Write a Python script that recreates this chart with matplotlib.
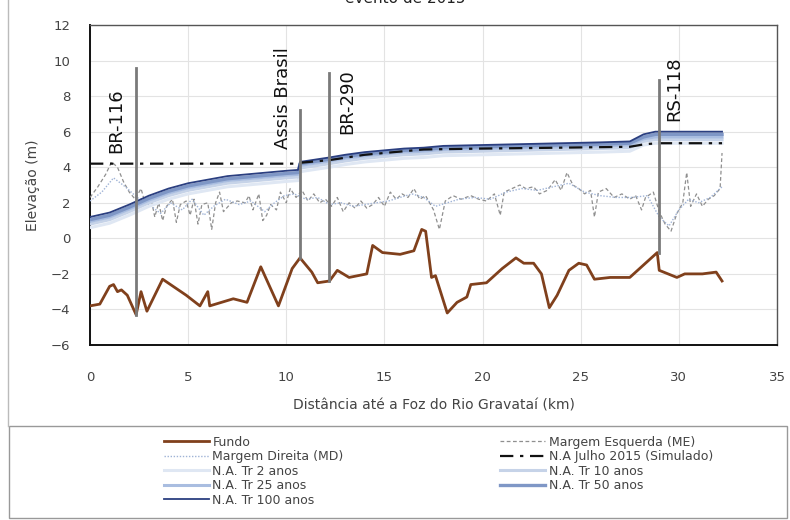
import matplotlib
matplotlib.use("Agg")
import matplotlib.pyplot as plt
from matplotlib.lines import Line2D
from matplotlib.patches import Rectangle

plt.rcParams.update({"font.family": ["DejaVu Sans"], "font.size": 9})

# ---- perfil de fundo ----
dist_fundo = [0, 0.5, 1.0, 1.2, 1.4, 1.6, 1.9, 2.35, 2.6, 2.9, 3.7, 4.9, 5.6, 6.0, 6.1,
              7.3, 8.0, 8.7, 9.6, 10.3, 10.7, 11.3, 11.6, 12.2, 12.6, 13.2, 14.1, 14.4,
              14.9, 15.8, 16.5, 16.9, 17.1, 17.4, 17.6, 18.2, 18.7, 19.2, 19.4, 20.2,
              21.0, 21.7, 22.1, 22.6, 23.0, 23.4, 23.8, 24.4, 24.9, 25.3, 25.7, 26.5,
              27.5, 28.9, 29.0, 29.9, 30.3, 31.2, 31.9, 32.2]
fundo = [-3.8, -3.7, -2.7, -2.6, -3.0, -2.9, -3.2, -4.3, -3.0, -4.1, -2.3, -3.2, -3.8, -3.0,
         -3.8, -3.4, -3.6, -1.6, -3.8, -1.7, -1.1, -1.9, -2.5, -2.4, -1.8, -2.2, -2.0, -0.4,
         -0.8, -0.9, -0.7, 0.5, 0.4, -2.2, -2.1, -4.2, -3.6, -3.3, -2.6, -2.5,
         -1.7, -1.1, -1.4, -1.4, -2.0, -3.9, -3.2, -1.8, -1.4, -1.5, -2.3, -2.2,
         -2.2, -0.8, -1.8, -2.2, -2.0, -2.0, -1.9, -2.4]

# ---- margens ----
dist_me = [0.0, 0.4, 0.8, 1.1, 1.4, 1.7, 2.0, 2.3, 2.6, 2.8, 3.1, 3.3, 3.5, 3.7, 3.9, 4.2,
           4.4, 4.6, 4.9, 5.1, 5.3, 5.5, 5.7, 6.0, 6.2, 6.4, 6.6, 6.8, 7.2, 7.5, 7.9, 8.1,
           8.3, 8.6, 8.8, 9.0, 9.2, 9.5, 9.7, 10.0, 10.2, 10.5, 10.8, 11.1, 11.4, 11.7,
           12.0, 12.3, 12.6, 12.9, 13.2, 13.5, 13.8, 14.1, 14.4, 14.7, 15.0, 15.3, 15.6,
           15.9, 16.2, 16.5, 16.8, 17.1, 17.5, 17.8, 18.1, 18.5, 18.9, 19.4, 19.8, 20.2,
           20.6, 20.9, 21.1, 21.5, 21.9, 22.2, 22.6, 22.9, 23.3, 23.7, 24.0, 24.3, 24.6,
           24.9, 25.2, 25.5, 25.7, 25.9, 26.3, 26.7, 27.1, 27.5, 27.8, 28.1, 28.3, 28.7,
           29.0, 29.3, 29.6, 29.9, 30.2, 30.4, 30.6, 30.9, 31.2, 31.5, 31.8, 32.1, 32.2]
margem_esq = [2.3, 2.9, 3.6, 4.3, 4.0, 3.2, 2.6, 2.2, 2.8, 2.0, 2.3, 1.2, 2.0, 1.0, 1.8, 2.2,
              0.9, 1.9, 2.1, 1.3, 2.2, 0.8, 1.9, 2.0, 0.5, 2.0, 2.6, 1.5, 2.0, 2.1, 2.0, 2.4,
              1.6, 2.5, 1.0, 1.3, 1.9, 1.6, 2.6, 2.0, 2.8, 2.3, 2.7, 2.1, 2.5, 2.0,
              2.2, 1.8, 2.3, 1.5, 2.0, 1.7, 2.1, 1.7, 1.9, 2.3, 1.8, 2.6, 2.2,
              2.5, 2.3, 2.8, 2.2, 2.4, 1.6, 0.5, 2.1, 2.4, 2.2, 2.4, 2.2, 2.1,
              2.5, 1.3, 2.6, 2.8, 3.0, 2.8, 2.9, 2.5, 2.7, 3.3, 2.7, 3.7, 3.0,
              2.8, 2.5, 2.7, 1.2, 2.6, 2.8, 2.3, 2.5, 2.2, 2.4, 1.6, 2.3, 2.6,
              1.5, 0.8, 0.4, 1.4, 2.0, 3.7, 1.8, 2.5, 1.8, 2.2, 2.4, 2.8, 4.8]

dist_md = [0.0, 0.6, 1.2, 1.8, 2.4, 3.0, 3.6, 4.1, 4.7, 5.2, 5.8, 6.3, 6.9, 7.6, 8.2, 8.9,
           9.4, 9.9, 10.4, 11.0, 11.6, 12.2, 12.8, 13.4, 14.0, 14.6, 15.2, 15.8, 16.4,
           17.0, 17.6, 18.2, 18.8, 19.6, 20.4, 21.2, 22.0, 22.8, 23.6, 24.4, 25.2, 26.0,
           26.8, 27.6, 28.4, 29.0, 29.5, 30.0, 30.5, 31.0, 31.6, 32.2]
margem_dir = [2.1, 2.6, 3.4, 2.9, 2.3, 1.9, 1.4, 2.0, 1.6, 2.2, 1.3, 1.8, 2.2, 1.9, 2.1, 1.5,
              2.0, 2.4, 2.5, 2.2, 2.3, 1.9, 2.0, 1.8, 1.9, 2.0, 2.1, 2.3, 2.5,
              2.3, 1.8, 2.0, 2.2, 2.3, 2.2, 2.6, 2.8, 2.7, 2.9, 3.1, 2.6, 2.4,
              2.3, 2.3, 2.4, 1.2, 0.7, 1.6, 2.2, 2.0, 2.3, 2.9]

# ---- niveis d'agua ----
dist_na = [0, 1, 2, 3, 4, 5, 6, 7, 8, 9, 10, 10.6, 10.7, 12.2, 13, 14, 15, 16, 17, 18, 20,
           22, 24, 26, 27.5, 28.2, 28.8, 30, 31, 32.2]
na_tr100 = [1.2, 1.45, 1.9, 2.4, 2.8, 3.1, 3.3, 3.5, 3.6, 3.7, 3.8, 3.85, 4.3, 4.55, 4.7,
            4.85, 4.95, 5.05, 5.1, 5.2, 5.25, 5.3, 5.35, 5.4, 5.45, 5.85, 6.0, 6.0, 6.0, 6.0]
na_tr50 = [1.05, 1.3, 1.75, 2.25, 2.65, 2.95, 3.15, 3.35, 3.45, 3.55, 3.65, 3.7, 4.2, 4.45,
           4.6, 4.75, 4.85, 4.95, 5.0, 5.1, 5.15, 5.2, 5.25, 5.3, 5.35, 5.7, 5.85, 5.85,
           5.85, 5.85]
na_tr25 = [0.95, 1.2, 1.65, 2.15, 2.55, 2.85, 3.05, 3.25, 3.35, 3.45, 3.55, 3.6, 4.1, 4.35,
           4.5, 4.65, 4.75, 4.85, 4.9, 5.0, 5.05, 5.1, 5.15, 5.2, 5.25, 5.6, 5.7, 5.7, 5.7,
           5.7]
na_tr10 = [0.8, 1.05, 1.5, 2.0, 2.4, 2.7, 2.9, 3.1, 3.2, 3.3, 3.4, 3.45, 3.95, 4.2, 4.35,
           4.5, 4.6, 4.7, 4.75, 4.85, 4.9, 4.95, 5.0, 5.05, 5.1, 5.45, 5.55, 5.55, 5.55, 5.55]
na_tr2 = [0.6, 0.85, 1.3, 1.8, 2.2, 2.5, 2.7, 2.9, 3.0, 3.1, 3.2, 3.25, 3.75, 4.0, 4.15,
          4.3, 4.4, 4.5, 4.55, 4.65, 4.7, 4.75, 4.8, 4.85, 4.9, 5.25, 5.35, 5.35, 5.35, 5.35]

dist_jul = [0, 10.6, 10.7, 12.2, 14, 16, 17, 20, 24, 27.5, 28.3, 29, 32.2]
na_julho = [4.2, 4.2, 4.25, 4.4, 4.7, 4.9, 5.0, 5.05, 5.1, 5.15, 5.3, 5.35, 5.35]

# ---- pontes ----
pontes = ["BR-116", "Assis Brasil", "BR-290", "RS-118"]
dist_pontes = [2.35, 10.7, 12.2, 29.0]
topo_pontes = [9.6, 7.2, 9.3, 8.9]
base_pontes = [-4.3, -1.1, -2.4, -0.8]
# posicao dos rotulos (km, m)
rot_x = [1.35, 9.85, 13.1, 29.75]
rot_y = [6.6, 7.9, 7.7, 8.4]

fig = plt.figure(figsize=(7.9, 5.2), dpi=100)
ax = fig.add_axes([90 / 790, 1 - 345 / 520, 687 / 790, 320 / 520])

ax.plot(dist_fundo, fundo, color="#80401c", lw=2.0, label="Fundo", zorder=4)
ax.plot(dist_me, margem_esq, color="#8f8f8f", lw=0.9, ls=(0, (3, 2)),
        label="Margem Esquerda (ME)", zorder=3)
ax.plot(dist_md, margem_dir, color="#9fb3d6", lw=1.0, ls=(0, (1, 1.2)),
        label="Margem Direita (MD)", zorder=3)
ax.plot(dist_jul, na_julho, color="#111111", lw=1.6, ls=(0, (6, 3, 1.5, 3)),
        label="N.A Julho 2015 (Simulado)", zorder=6)
ax.plot(dist_na, na_tr2, color="#dfe7f3", lw=2.2, label="N.A. Tr 2 anos", zorder=5)
ax.plot(dist_na, na_tr10, color="#c6d3e8", lw=2.2, label="N.A. Tr 10 anos", zorder=5)
ax.plot(dist_na, na_tr25, color="#a9bde0", lw=2.2, label="N.A. Tr 25 anos", zorder=5)
ax.plot(dist_na, na_tr50, color="#7f97c6", lw=2.4, label="N.A. Tr 50 anos", zorder=5)
ax.plot(dist_na, na_tr100, color="#2b3f80", lw=1.3, label="N.A. Tr 100 anos", zorder=5)

for xp, yt, yb in zip(dist_pontes, topo_pontes, base_pontes):
    ax.plot([xp, xp], [yb, yt], color="#7a7a7a", lw=2.0, zorder=7)

# rotulos das pontes (texto vertical ao lado de cada linha)
for nome, xr, yr in zip(pontes, rot_x, rot_y):
    ax.text(xr, yr, nome, rotation=90, ha="center", va="center", fontsize=13,
            color="#111111", zorder=8)

ax.set_xlim(0, 35)
ax.set_ylim(-6, 12)
ax.set_xticks(range(0, 36, 5))
ax.set_yticks(range(-6, 13, 2))
ax.grid(True, color="#e3e3e3", lw=0.8)
ax.set_axisbelow(True)
ax.tick_params(axis="y", length=0, labelsize=9.5, labelcolor="#444444", pad=14)
ax.tick_params(axis="x", length=0, labelsize=9.5, labelcolor="#444444", pad=19)
for s in ax.spines.values():
    s.set_color("#555555")
    s.set_linewidth(1.0)
ax.spines["left"].set_color("#111111")
ax.spines["left"].set_linewidth(1.4)
ax.spines["bottom"].set_color("#111111")
ax.spines["bottom"].set_linewidth(1.4)

ax.set_xlabel("Distância até a Foz do Rio Gravataí (km)", fontsize=10, color="#444444",
              labelpad=10)
ax.set_ylabel("Elevação (m)", fontsize=10, color="#444444", labelpad=8)

fig.text(405 / 790, 1 - 3 / 520, "evento de 2015", ha="center", va="baseline",
         fontsize=11, color="#222222")

# moldura externa e caixa da legenda
fig.add_artist(Line2D([8 / 790, 8 / 790], [1, 1 - 426 / 520], color="#bbbbbb", lw=1.0))
fig.add_artist(Rectangle((9 / 790, 2 / 520), 778 / 790, 92 / 520,
                         transform=fig.transFigure, fill=False, ec="#999999", lw=1.0))

h, l = ax.get_legend_handles_labels()
ordem = ["Fundo", "Margem Direita (MD)", "N.A. Tr 2 anos", "N.A. Tr 25 anos",
         "N.A. Tr 100 anos", "Margem Esquerda (ME)", "N.A Julho 2015 (Simulado)",
         "N.A. Tr 10 anos", "N.A. Tr 50 anos"]
hd = dict(zip(l, h))
fig.legend([hd[k] for k in ordem], ordem, loc="upper left",
           bbox_to_anchor=(155 / 790, 1 - 427 / 520), ncol=2, frameon=False,
           fontsize=9, handlelength=3.6, handletextpad=0.3, columnspacing=12.5,
           labelspacing=0.12, borderpad=0.2, labelcolor="#444444")

fig.savefig("out.png", dpi=100)
